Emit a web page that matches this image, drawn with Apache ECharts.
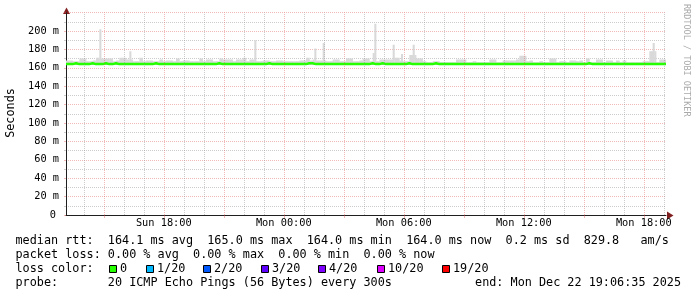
<!DOCTYPE html>
<html><head><meta charset="utf-8">
<script src="https://cdn.jsdelivr.net/npm/echarts@6/dist/echarts.min.js"></script>
<style>html,body{margin:0;padding:0;background:#fff}#c{width:697px;height:297px}</style>
</head><body><div id="c"></div>
<script>
// ---------- data ----------
// time in minutes since Sun 00:00
const START_MIN = 13 * 60 + 6 + 35 / 60;   // Sun 13:06:35
const END_MIN = START_MIN + 30 * 60;       // Mon 19:06:35
const STEP_MIN = 10;                       // resolution of smoke/median arrays
const SLOT_MIN = 5;                        // resolution of spike slots
const smokeFloorMs = 163;

// upper edge of smoke (ms), one value per 10 minutes
const smokeTopMs = [
  168,168,167,167,170,170,167,167,168,171,170,170,
  170,170,167,168,171,171,169,169,167,167,171,167,
  168,168,167,167,169,167,168,168,167,170,167,168,
  168,167,167,167,170,167,169,169,167,167,170,169,
  169,169,167,169,169,171,167,169,169,167,167,168,
  168,167,167,168,168,167,167,167,167,167,168,168,
  171,168,169,168,168,168,167,167,169,169,167,167,
  170,170,167,167,168,170,170,167,176,167,169,169,
  169,169,171,171,168,167,167,174,174,170,170,167,
  166,166,167,167,166,166,166,166,166,169,169,169,
  166,166,167,166,166,166,166,169,169,166,166,168,
  168,168,168,169,173,173,167,168,166,166,167,166,
  166,170,170,166,167,167,166,168,168,167,168,166,
  170,166,166,169,169,166,168,168,166,168,166,168,
  166,166,166,166,166,167,167,178,178,166,169,169
];

// single-ping outliers: 5-minute slot index and value (ms)
const spikeSlot = [20, 38, 113, 149, 154, 185, 196, 201, 208, 352];
const spikeMs   = [202, 178, 190, 181, 187, 208, 185, 175, 185, 187];

// median rtt (ms), one value per 10 minutes
const medianMs = [
  164,164,165,164,164,164,164,165,164,164,164,165,
  164,164,165,164,164,164,164,164,164,164,164,164,
  164,164,165,164,164,164,164,164,164,164,164,164,
  164,164,164,164,164,164,164,164,164,165,164,164,
  164,164,164,164,164,164,164,164,164,164,164,164,
  165,164,164,164,164,164,164,164,164,164,164,164,
  165,165,164,164,164,164,164,164,164,164,164,164,
  164,164,164,164,164,164,164,165,164,164,165,164,
  164,164,164,164,164,164,165,164,164,164,164,164,
  164,164,165,164,164,164,164,164,164,164,164,164,
  164,164,164,164,164,164,164,164,164,164,164,164,
  164,164,164,164,164,164,164,164,164,164,164,164,
  164,164,164,164,164,164,164,164,164,164,164,164,
  165,164,164,164,164,164,164,164,164,164,164,164,
  164,164,164,164,164,164,164,164,164,164,164,164
];

const timeLabels   = ['Sun 18:00', 'Mon 00:00', 'Mon 06:00', 'Mon 12:00', 'Mon 18:00'];
const timeLabelMin = [1080, 1440, 1800, 2160, 2520];

const legendRtt   = 'median rtt:  164.1 ms avg  165.0 ms max  164.0 ms min  164.0 ms now  0.2 ms sd  829.8   am/s';
const legendLoss  = 'packet loss: 0.00 % avg  0.00 % max  0.00 % min  0.00 % now';
const legendColor = 'loss color:';
const legendProbe = 'probe:       20 ICMP Echo Pings (56 Bytes) every 300s';
const legendEnd   = 'end: Mon Dec 22 19:06:35 2025';
const lossLabels  = ['0', '1/20', '2/20', '3/20', '4/20', '10/20', '19/20'];
const lossColors  = ['#26ff00', '#00b8ff', '#0059ff', '#5e00ff', '#7e00ff', '#dd00ff', '#ff0000'];

// ---------- layout / style ----------
const MONO = '"DejaVu Sans Mono", monospace';
const MAJOR_GRID = 'rgba(222,79,79,0.4)';
const MINOR_GRID = 'rgba(143,143,143,0.45)';
const lossBoxX = [109, 146, 203, 261, 318, 377, 442];

// grid line positions (every hour, major every 3 hours)
const majorGridMin = [], minorGridMin = [];
for (let h = Math.ceil(START_MIN / 60); h * 60 <= END_MIN; h++) {
  (h % 3 === 0 ? majorGridMin : minorGridMin).push(h * 60);
}

// ---------- series data ----------
const spikeBySlot = {};
spikeSlot.forEach((s, i) => { spikeBySlot[s] = spikeMs[i]; });
const nSlots = smokeTopMs.length * STEP_MIN / SLOT_MIN;
const smokeData = [];
for (let i = 0; i < nSlots; i++) {
  const t = START_MIN + i * SLOT_MIN;
  let top = smokeTopMs[Math.floor(i * SLOT_MIN / STEP_MIN)];
  if (spikeBySlot[i] !== undefined) top = Math.max(top, spikeBySlot[i]);
  smokeData.push([t, t + SLOT_MIN, smokeFloorMs, top]);
}

const medianData = medianMs.map((v, k) => [START_MIN + k * STEP_MIN, v]);
medianData.push([END_MIN, medianMs[medianMs.length - 1]]);

// ---------- graphic (texts / legend) ----------
const TXT = '11.8px ' + MONO;
const graphic = [
  { type: 'text', x: 11, y: 113, rotation: Math.PI / 2,
    style: { text: 'Seconds', font: TXT, fill: '#000', align: 'center', verticalAlign: 'middle' } },
  { type: 'text', x: 686, y: 4, rotation: -Math.PI / 2,
    style: { text: 'RRDTOOL / TOBI OETIKER', font: '8.5px ' + MONO, fill: '#aaaaaa', align: 'left', verticalAlign: 'middle' } },
  { type: 'text', x: 15.5, y: 241, style: { text: legendRtt, font: TXT, fill: '#000', verticalAlign: 'middle' } },
  { type: 'text', x: 15.5, y: 255, style: { text: legendLoss, font: TXT, fill: '#000', verticalAlign: 'middle' } },
  { type: 'text', x: 15.5, y: 269, style: { text: legendColor, font: TXT, fill: '#000', verticalAlign: 'middle' } },
  { type: 'text', x: 15.5, y: 283, style: { text: legendProbe, font: TXT, fill: '#000', verticalAlign: 'middle' } },
  { type: 'text', x: 681, y: 283, style: { text: legendEnd, font: TXT, fill: '#000', align: 'right', verticalAlign: 'middle' } },
  // axis arrows
  { type: 'polygon', shape: { points: [[63, 14], [70, 14], [66.5, 7.5]] }, style: { fill: '#801f1f' } },
  { type: 'polygon', shape: { points: [[667, 211.5], [667, 219.5], [673.5, 215.5]] }, style: { fill: '#801f1f' } }
];
lossLabels.forEach((lab, i) => {
  graphic.push({ type: 'rect', shape: { x: lossBoxX[i] + 0.5, y: 265.5, width: 7, height: 7 },
    style: { fill: lossColors[i], stroke: '#000', lineWidth: 1 } });
  graphic.push({ type: 'text', x: lossBoxX[i] + 11, y: 269,
    style: { text: lab, font: TXT, fill: '#000', verticalAlign: 'middle' } });
});

function gridSeries(name, values, color) {
  return {
    name, type: 'line', z: 1, silent: true, symbol: 'none',
    data: [[START_MIN, 0], [END_MIN, 0]], lineStyle: { opacity: 0, width: 0 },
    markLine: {
      silent: true, symbol: ['none', 'none'], label: { show: false }, animation: false,
      lineStyle: { color, type: [1, 1], width: 1 },
      emphasis: { disabled: true },
      data: values.map(v => ({ xAxis: v }))
    }
  };
}

// ---------- chart ----------
const chart = echarts.init(document.getElementById('c'), null, { renderer: 'canvas' });
chart.setOption({
  backgroundColor: '#ffffff',
  animation: false,
  textStyle: { fontFamily: MONO },
  grid: { left: 66, top: 12.6, width: 600, height: 202.4, containLabel: false },
  xAxis: {
    type: 'value', min: START_MIN, max: END_MIN,
    axisLine: { show: true, lineStyle: { color: '#1f1f1f', width: 1 } },
    axisTick: { show: true, customValues: majorGridMin, length: 3, lineStyle: { color: MAJOR_GRID } },
    axisLabel: {
      show: true, customValues: timeLabelMin, margin: 3, color: '#000', fontSize: 10.3, fontFamily: MONO,
      formatter: v => { const i = timeLabelMin.findIndex(m => Math.abs(m - v) < 0.5); return i >= 0 ? timeLabels[i] : ''; }
    },
    splitLine: { show: false }
  },
  yAxis: {
    type: 'value', min: 0, max: 220, interval: 20,
    axisLine: { show: true, lineStyle: { color: '#1f1f1f', width: 1 } },
    axisTick: { show: true, length: 2, lineStyle: { color: MAJOR_GRID } },
    minorTick: { show: true, splitNumber: 2, length: 2, lineStyle: { color: MINOR_GRID } },
    axisLabel: {
      showMaxLabel: false, margin: 7, color: '#000', fontSize: 10.3, fontFamily: MONO,
      formatter: v => v === 0 ? '{z|0}' : v + ' m',
      rich: { z: { padding: [0, 3, 0, 0], fontSize: 10.3, fontFamily: MONO, color: '#000' } }
    },
    splitLine: { show: true, lineStyle: { color: MAJOR_GRID, type: [1, 1], width: 1 } },
    minorSplitLine: { show: true, lineStyle: { color: MINOR_GRID, type: [1, 1], width: 1 } }
  },
  series: [
    gridSeries('minorGrid', minorGridMin, MINOR_GRID),
    gridSeries('majorGrid', majorGridMin, MAJOR_GRID),
    { name: 'smoke', type: 'custom', z: 2, silent: true, clip: true,
      encode: { x: [0, 1], y: [2, 3] },
      data: smokeData,
      renderItem: (params, api) => {
        const p0 = api.coord([api.value(0), api.value(3)]);
        const p1 = api.coord([api.value(1), api.value(2)]);
        return { type: 'rect',
          shape: { x: p0[0], y: p0[1], width: p1[0] - p0[0] + 0.4, height: p1[1] - p0[1] },
          style: { fill: '#d9d9d9' } };
      } },
    { name: 'median', type: 'line', z: 3, step: 'end', symbol: 'none', silent: true,
      data: medianData, lineStyle: { color: '#26ff00', width: 2.5 } }
  ],
  graphic: graphic
});
</script></body></html>
